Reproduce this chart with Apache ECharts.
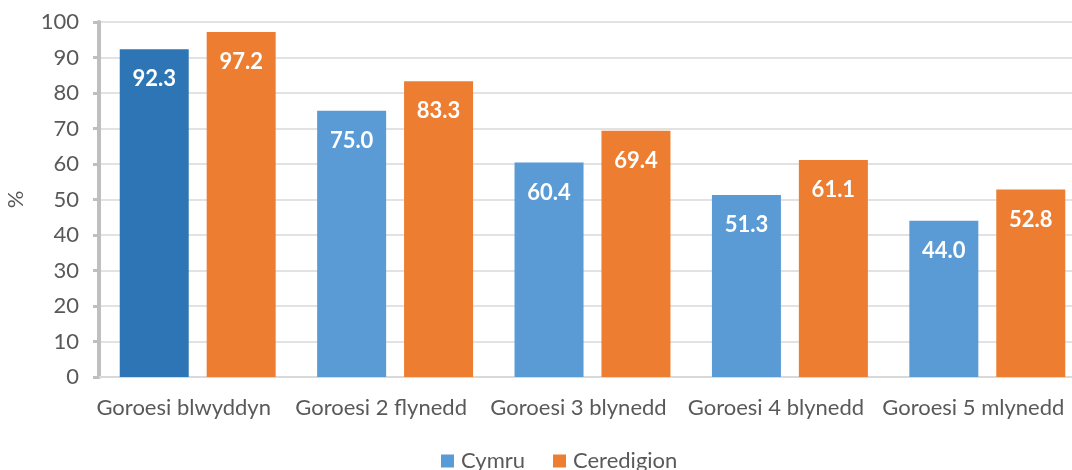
<!DOCTYPE html>
<html><head><meta charset="utf-8">
<script src="https://cdn.jsdelivr.net/npm/echarts@6/dist/echarts.min.js"></script>
<style>html,body{margin:0;padding:0;background:#fff}#c{width:1072px;height:470px}</style>
</head><body><div id="c"></div>
<script>
const categories = ['Goroesi blwyddyn','Goroesi 2 flynedd','Goroesi 3 blynedd','Goroesi 4 blynedd','Goroesi 5 mlynedd'];
const cymru = [92.3, 75.0, 60.4, 51.3, 44.0];
const ceredigion = [97.2, 83.3, 69.4, 61.1, 52.8];
const seriesNames = ['Cymru','Ceredigion'];
const yTicks = {min: 0, max: 100, interval: 10};

const FONT = 'Lato, "Open Sans", sans-serif';
const lbl = {show: true, position: 'insideTop', distance: 19, color: '#fff', fontWeight: 'bold', fontSize: 22, fontFamily: FONT, formatter: p => p.value.toFixed(1)};
const chart = echarts.init(document.getElementById('c'));
chart.setOption({
  animation: false,
  grid: {left: 99, top: 22, width: 987, height: 355, containLabel: false, outerBoundsMode: 'none'},
  legend: {top: 445, left: 436, itemWidth: 13, itemHeight: 13, itemGap: 28, icon: 'rect',
    textStyle: {fontSize: 22, color: '#595959', fontFamily: FONT, padding: [0, 0, 0, 2]}, data: seriesNames},
  xAxis: {type: 'category', data: categories,
    axisLine: {lineStyle: {color: '#D9D9D9', width: 2}},
    axisTick: {show: false},
    axisLabel: {color: '#595959', fontSize: 22, fontFamily: FONT, margin: 20, interval: 0, hideOverlap: false, padding: [0, 28, 0, 0]}},
  yAxis: {type: 'value', min: yTicks.min, max: yTicks.max, interval: yTicks.interval,
    name: '%', nameLocation: 'middle', nameGap: 72, nameRotate: 90,
    nameTextStyle: {fontSize: 22, color: '#595959', fontFamily: FONT},
    axisLine: {show: true, lineStyle: {color: '#BFBFBF', width: 4}},
    axisTick: {show: true, length: 6, lineStyle: {color: '#BFBFBF', width: 3}},
    splitLine: {lineStyle: {color: '#D9D9D9', width: 1.5}},
    axisLabel: {color: '#595959', fontSize: 22, fontFamily: FONT, margin: 20}},
  series: [
    {name: seriesNames[0], type: 'bar', barWidth: 69, barGap: '26%', itemStyle: {color: '#5B9BD5'},
     data: cymru.map((v, i) => i === 0 ? {value: v, itemStyle: {color: '#2E75B6'}} : v), label: lbl},
    {name: seriesNames[1], type: 'bar', barWidth: 69, barGap: '26%', itemStyle: {color: '#ED7D31'},
     data: ceredigion, label: lbl}
  ]
});
</script></body></html>
